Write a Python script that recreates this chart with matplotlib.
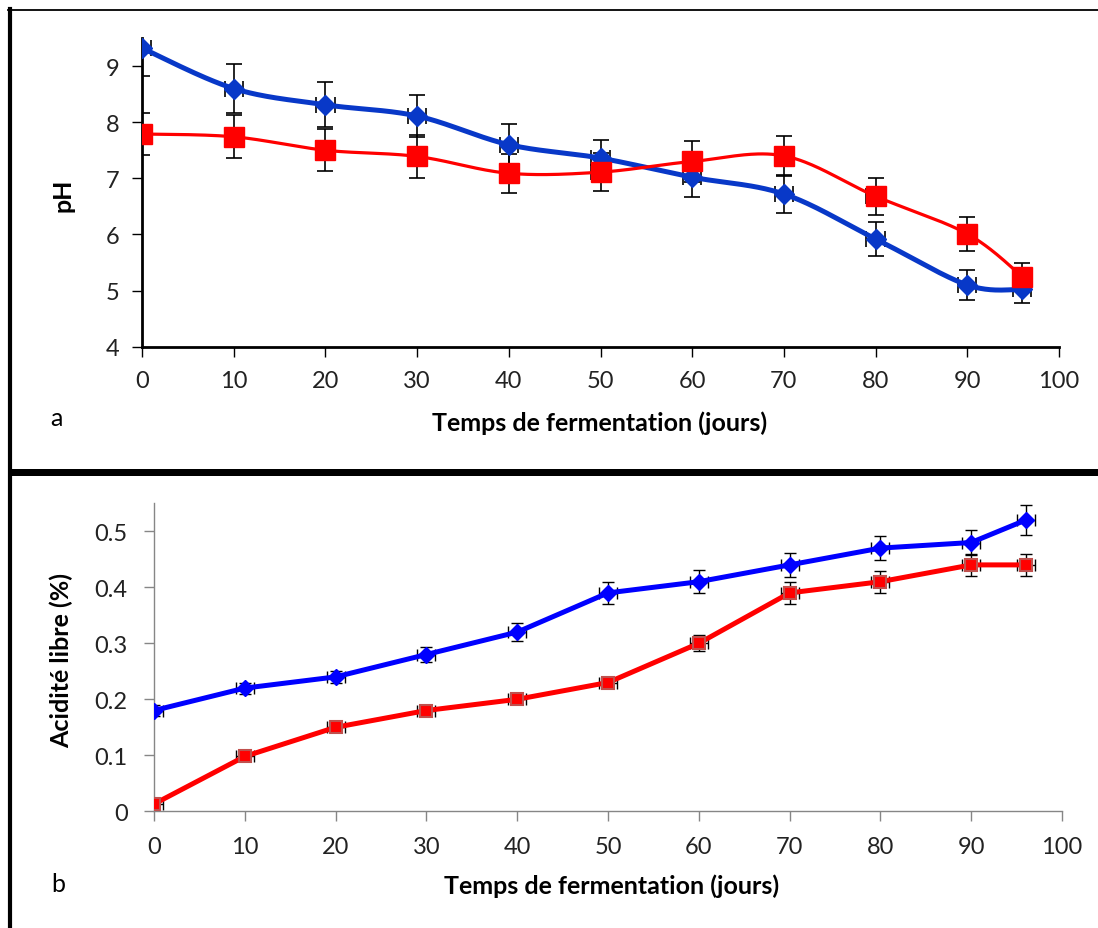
import numpy as np
import matplotlib
matplotlib.use("Agg")
import matplotlib.pyplot as plt
from matplotlib.lines import Line2D
from matplotlib.patches import Rectangle

# ---------------- data ----------------
days = [0, 10, 20, 30, 40, 50, 60, 70, 80, 90, 96]
x_ticks = [0, 10, 20, 30, 40, 50, 60, 70, 80, 90, 100]

ph_blue = [9.32, 8.60, 8.31, 8.11, 7.60, 7.36, 7.02, 6.72, 5.92, 5.10, 5.02]
ph_blue_err = [0.50, 0.43, 0.40, 0.37, 0.37, 0.33, 0.35, 0.34, 0.30, 0.26, 0.25]
ph_red = [7.79, 7.74, 7.50, 7.39, 7.09, 7.11, 7.30, 7.40, 6.68, 6.01, 5.25]
ph_red_err = [0.38, 0.38, 0.37, 0.38, 0.35, 0.34, 0.36, 0.35, 0.33, 0.30, 0.25]
ph_ticks = [4, 5, 6, 7, 8, 9]

ac_blue = [0.18, 0.22, 0.24, 0.28, 0.32, 0.39, 0.41, 0.44, 0.47, 0.48, 0.52]
ac_blue_err = [0.010, 0.010, 0.010, 0.013, 0.016, 0.019, 0.021, 0.022, 0.022, 0.022, 0.027]
ac_red = [0.013, 0.098, 0.15, 0.18, 0.20, 0.23, 0.30, 0.39, 0.41, 0.44, 0.44]
ac_red_err = [0.005, 0.005, 0.006, 0.006, 0.007, 0.010, 0.014, 0.020, 0.020, 0.020, 0.020]
ac_ticks = [0, 0.1, 0.2, 0.3, 0.4, 0.5]
ac_tick_labels = ["0", "0.1", "0.2", "0.3", "0.4", "0.5"]

x_err = 1.0

W, H = 1098, 929
plt.rcParams['font.family'] = ['Lato', 'DejaVu Sans']

fig = plt.figure(figsize=(W / 100, H / 100), dpi=100)


def fx(px):
    return px / W


def fy(py):
    return (H - py) / H


def smooth(xs, ys, n=40):
    pts = np.column_stack([xs, ys]).astype(float)
    out = []
    t = np.linspace(0, 1, n)[:, None]
    for i in range(len(pts) - 1):
        p0 = pts[i - 1] if i > 0 else pts[i]
        p1 = pts[i]
        p2 = pts[i + 1]
        p3 = pts[i + 2] if i + 2 < len(pts) else pts[i + 1]
        c1 = p1 + (p2 - p0) / 6.0
        c2 = p2 - (p3 - p1) / 6.0
        seg = ((1 - t) ** 3) * p1 + 3 * ((1 - t) ** 2) * t * c1 + 3 * (1 - t) * t ** 2 * c2 + t ** 3 * p2
        out.append(seg if i == 0 else seg[1:])
    arr = np.vstack(out)
    return arr[:, 0], arr[:, 1]


# ---------------- frame decorations ----------------
fig.add_artist(Line2D([fx(8), fx(1098)], [fy(11), fy(11)], color='black', lw=1.3))
fig.add_artist(Line2D([fx(9.5), fx(9.5)], [fy(10), fy(929)], color='black', lw=3.0))
fig.add_artist(Rectangle((fx(8), fy(477)), fx(1098) - fx(8), fy(470) - fy(477),
                         facecolor='black', edgecolor='none'))

# ---------------- top panel (pH) ----------------
ax1 = fig.add_axes([fx(142), fy(347.7), fx(1059) - fx(142), fy(39) - fy(347.7)])
ax1.set_xlim(0, 100)
ax1.set_ylim(4, 9.5)
for s in ['top', 'right']:
    ax1.spines[s].set_visible(False)
for s in ['left', 'bottom']:
    ax1.spines[s].set_linewidth(2.0)
    ax1.spines[s].set_color('black')
ax1.set_xticks(x_ticks)
ax1.set_yticks(ph_ticks)
ax1.tick_params(axis='both', direction='out', length=7, width=1.0, color='black',
                labelsize=17, labelcolor='#222222')
ax1.tick_params(axis='x', pad=10)
ax1.tick_params(axis='y', pad=9)

bx, by = smooth(days, ph_blue)
rx, ry = smooth(days, ph_red)
ax1.errorbar(days, ph_blue, yerr=ph_blue_err, xerr=x_err, fmt='none', ecolor='black',
             elinewidth=1.2, capsize=5.5, capthick=1.2, zorder=2)
ax1.errorbar(days, ph_red, yerr=ph_red_err, xerr=x_err, fmt='none', ecolor='black',
             elinewidth=1.2, capsize=5.5, capthick=1.2, zorder=2)
ax1.plot(bx, by, color='#0838C8', lw=3.6, zorder=3, solid_capstyle='round')
ax1.plot(rx, ry, color='#FF0000', lw=2.3, zorder=3)
ax1.plot(days, ph_blue, ls='none', marker='D', ms=10, color='#0838C8', zorder=4)
ax1.plot(days, ph_red, ls='none', marker='s', ms=14, color='#FF0000', zorder=4)

fig.text(fx(63), fy(195), 'pH', rotation=90, ha='center', va='center',
         fontsize=18, fontweight='bold', color='black')
fig.text(fx(600), fy(423), 'Temps de fermentation (jours)', ha='center', va='center',
         fontsize=18, fontweight='bold', color='black')
fig.text(fx(56), fy(419), 'a', ha='center', va='center', fontsize=18, color='black')

# ---------------- bottom panel (acidity) ----------------
ax2 = fig.add_axes([fx(154), fy(812.3), fx(1062) - fx(154), fy(504.3) - fy(812.3)])
ax2.set_xlim(0, 100)
ax2.set_ylim(0, 0.55)
for s in ['top', 'right']:
    ax2.spines[s].set_visible(False)
for s in ['left', 'bottom']:
    ax2.spines[s].set_linewidth(1.0)
    ax2.spines[s].set_color('#868686')
ax2.set_xticks(x_ticks)
ax2.set_yticks(ac_ticks)
ax2.set_yticklabels(ac_tick_labels)
ax2.tick_params(axis='both', direction='out', length=7, width=1.0, color='#868686',
                labelsize=17, labelcolor='#222222')
ax2.tick_params(axis='x', pad=11)
ax2.tick_params(axis='y', pad=12)

ax2.errorbar(days, ac_blue, yerr=ac_blue_err, xerr=x_err, fmt='none', ecolor='black',
             elinewidth=1.0, capsize=4.5, capthick=1.0, zorder=2)
ax2.errorbar(days, ac_red, yerr=ac_red_err, xerr=x_err, fmt='none', ecolor='black',
             elinewidth=1.0, capsize=4.5, capthick=1.0, zorder=2)
ax2.plot(days, ac_blue, color='#0000FF', lw=3.6, marker='D', ms=8.5, zorder=3)
ax2.plot(days, ac_red, color='#FF0000', lw=3.6, marker='s', ms=8.5,
         markeredgecolor='#C0504D', markeredgewidth=1.5, zorder=3)

fig.text(fx(61), fy(660), 'Acidité libre (%)', rotation=90, ha='center', va='center',
         fontsize=18, fontweight='bold', color='black')
fig.text(fx(612), fy(886), 'Temps de fermentation (jours)', ha='center', va='center',
         fontsize=18, fontweight='bold', color='black')
fig.text(fx(58), fy(885), 'b', ha='center', va='center', fontsize=18, color='black')

fig.savefig('out.png', dpi=100)
